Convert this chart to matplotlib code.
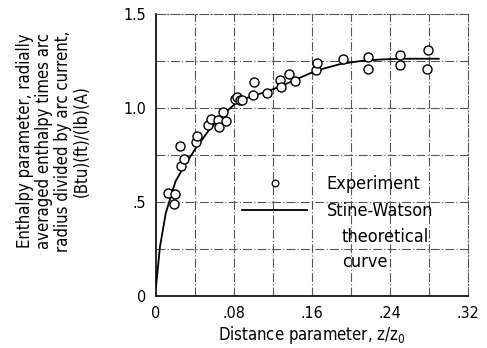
import matplotlib
matplotlib.use("Agg")
import matplotlib.pyplot as plt
from matplotlib.lines import Line2D

# ---- data ----
exp_x = [0.0126, 0.0195, 0.0185, 0.025, 0.026, 0.029, 0.041, 0.042, 0.053, 0.056,
         0.064, 0.065, 0.069, 0.072, 0.081, 0.083, 0.086, 0.088, 0.099, 0.100,
         0.114, 0.127, 0.128, 0.136, 0.143, 0.164, 0.165, 0.192, 0.217, 0.217,
         0.250, 0.250, 0.279, 0.278]
exp_y = [0.55, 0.54, 0.49, 0.80, 0.69, 0.73, 0.82, 0.85, 0.91, 0.94,
         0.936, 0.90, 0.98, 0.93, 1.05, 1.057, 1.04, 1.04, 1.07, 1.14,
         1.08, 1.15, 1.11, 1.18, 1.145, 1.20, 1.24, 1.26, 1.27, 1.21,
         1.28, 1.23, 1.31, 1.21]
curve_x = [0.0, 0.001, 0.004, 0.010, 0.020, 0.030, 0.040, 0.054, 0.072, 0.085,
           0.100, 0.115, 0.130, 0.145, 0.165, 0.190, 0.210, 0.230, 0.250, 0.290]
curve_y = [0.05, 0.10, 0.26, 0.44, 0.61, 0.70, 0.78, 0.88, 0.98, 1.04,
           1.065, 1.09, 1.12, 1.155, 1.20, 1.235, 1.25, 1.258, 1.262, 1.262]
x_ticks = [0, 0.08, 0.16, 0.24, 0.32]
x_tick_labels = ["0", ".08", ".16", ".24", ".32"]
y_ticks = [0, 0.5, 1.0, 1.5]
y_tick_labels = ["0", ".5", "1.0", "1.5"]
x_grid = [0.04, 0.08, 0.12, 0.16, 0.20, 0.24, 0.28]
y_grid = [0.25, 0.5, 0.75, 1.0, 1.25]

plt.rcParams["font.family"] = ["DejaVu Sans"]
plt.rcParams["font.stretch"] = "condensed"

fig = plt.figure(figsize=(4.87, 3.48), dpi=100)
ax = fig.add_axes([156/487, 1-296/348, 312/487, 282/348])
ax.set_xlim(0, 0.32)
ax.set_ylim(0, 1.5)

for gx in x_grid:
    ax.axvline(gx, color="#555555", lw=0.8, ls=(0, (8, 2, 1, 2)), zorder=0)
for gy in y_grid:
    ax.axhline(gy, color="#555555", lw=0.8, ls=(0, (8, 2, 1, 2)), zorder=0)

for s in ["top", "right"]:
    ax.spines[s].set_color("#555555")
    ax.spines[s].set_linewidth(0.8)
    ax.spines[s].set_linestyle((0, (8, 2, 1, 2)))
for s in ["left", "bottom"]:
    ax.spines[s].set_color("black")
    ax.spines[s].set_linewidth(1.2)

ax.plot(curve_x, curve_y, color="black", lw=1.3, zorder=2)
ax.plot(exp_x, exp_y, ls="none", marker="o", ms=6.5, mfc="white", mec="black", mew=1.0, zorder=3)

ax.set_xticks(x_ticks)
ax.set_xticklabels(x_tick_labels, fontsize=11.5)
ax.set_yticks(y_ticks)
ax.set_yticklabels(y_tick_labels, fontsize=11.5)
ax.tick_params(length=0, pad=7)

ax.set_xlabel("Distance parameter, z/z$_0$", fontsize=12, labelpad=2)

fig.text(53.5/487, 1-141/348,
         "Enthalpy parameter, radially\naveraged enthalpy times arc\nradius divided by arc current,\n(Btu)(ft)/(lb)(A)",
         rotation=90, ha="center", va="center", multialignment="center",
         fontsize=12, linespacing=1.05)

h1 = Line2D([], [], ls="none", marker="o", ms=4.8, mfc="white", mec="black", mew=0.9)
h2 = Line2D([], [], color="black", lw=1.3)
leg = ax.legend([h1, h2], ["Experiment", "Stine-Watson"], loc="upper left",
                bbox_to_anchor=((242-156)/312, (296-175)/282), frameon=False,
                fontsize=13, handlelength=3.6, handletextpad=1.1, labelspacing=0.5,
                borderpad=0, borderaxespad=0)
ax.text((342-156)/312, (296-249.5)/282, "theoretical\ncurve", transform=ax.transAxes,
        ha="left", va="center", fontsize=13, linespacing=1.45)

fig.savefig("out.png", dpi=100)
